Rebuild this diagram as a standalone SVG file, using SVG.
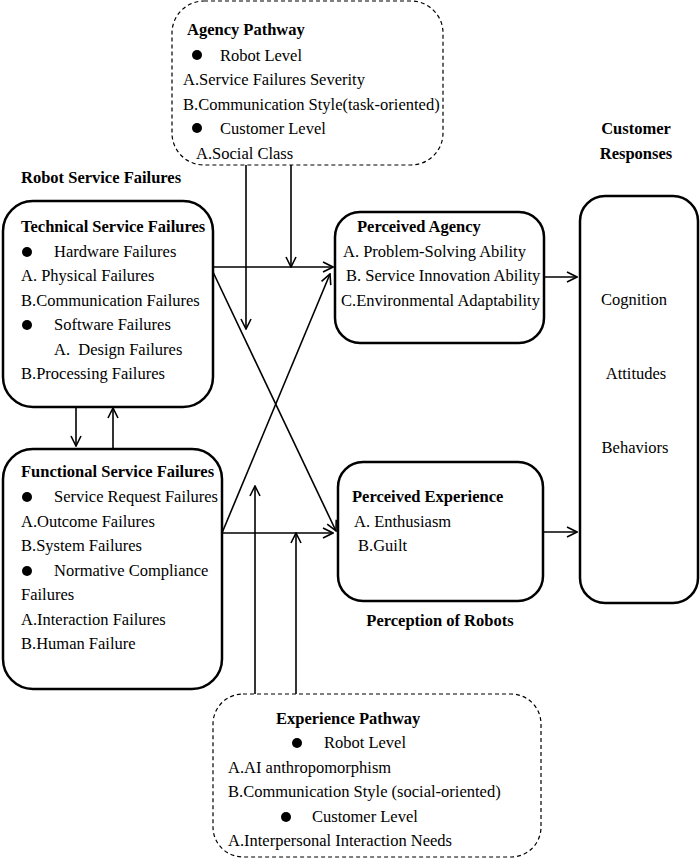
<svg xmlns="http://www.w3.org/2000/svg" width="700" height="859" viewBox="0 0 700 859">
<defs>
<style>
text{font-family:"Liberation Serif","Times New Roman",serif;font-size:16.5px;fill:#000}
.b{font-weight:bold}
.box{fill:#fff;stroke:#000;stroke-width:2.5}
.dash{fill:#fff;stroke:#000;stroke-width:1.2;stroke-dasharray:4,3}
.ln{fill:none;stroke:#000;stroke-width:1.6}
.mid{text-anchor:middle}
</style>
<marker id="ah" viewBox="0 0 12 12" refX="11" refY="6" markerWidth="12" markerHeight="12" markerUnits="userSpaceOnUse" orient="auto">
<path d="M1,1 L11,6 L1,11" fill="none" stroke="#000" stroke-width="1.6"/>
</marker>
</defs>
<rect width="700" height="859" fill="#fff"/>

<g id="agency-pathway">
<rect class="dash" x="172" y="1" width="271" height="164" rx="32"/>
<text class="b" x="187" y="35">Agency Pathway</text>
<circle cx="197" cy="55" r="5"/>
<text x="220" y="61">Robot Level</text>
<text x="183" y="85">A.Service Failures Severity</text>
<text x="183" y="110">B.Communication Style(task-oriented)</text>
<circle cx="197" cy="128" r="5"/>
<text x="220" y="134">Customer Level</text>
<text x="196" y="159">A.Social Class</text>
</g>

<g id="robot-service-failures-label">
<text class="b" x="21" y="183">Robot Service Failures</text>
</g>

<g id="technical-service-failures">
<rect class="box" x="3" y="201" width="210" height="206" rx="30"/>
<text class="b" x="21" y="232">Technical Service Failures</text>
<circle cx="27" cy="252" r="5"/>
<text x="54" y="257">Hardware Failures</text>
<text x="21" y="281">A. Physical Failures</text>
<text x="21" y="306">B.Communication Failures</text>
<circle cx="27" cy="325" r="5"/>
<text x="54" y="330">Software Failures</text>
<text x="54" y="355" xml:space="preserve">A.  Design Failures</text>
<text x="21" y="379">B.Processing Failures</text>
</g>

<g id="functional-service-failures">
<rect class="box" x="3" y="449" width="219" height="240" rx="30"/>
<text class="b" x="21" y="477">Functional Service Failures</text>
<circle cx="27" cy="497" r="5"/>
<text x="54" y="502">Service Request Failures</text>
<text x="21" y="527">A.Outcome Failures</text>
<text x="21" y="551">B.System Failures</text>
<circle cx="27" cy="571" r="5"/>
<text x="54" y="576">Normative Compliance</text>
<text x="21" y="600">Failures</text>
<text x="21" y="625">A.Interaction Failures</text>
<text x="21" y="649">B.Human Failure</text>
</g>

<g id="perceived-agency">
<rect class="box" x="335" y="212" width="209" height="131" rx="25"/>
<text class="b" x="357" y="232">Perceived Agency</text>
<text x="343" y="257">A. Problem-Solving Ability</text>
<text x="346" y="281">B. Service Innovation Ability</text>
<text x="341" y="306">C.Environmental Adaptability</text>
</g>

<g id="perceived-experience">
<rect class="box" x="338" y="462" width="205" height="139" rx="25"/>
<text class="b" x="352" y="502">Perceived Experience</text>
<text x="354" y="527">A. Enthusiasm</text>
<text x="358" y="551">B.Guilt</text>
</g>

<g id="perception-of-robots-label">
<text class="b mid" x="440" y="626">Perception of Robots</text>
</g>

<g id="customer-responses">
<text class="b mid" x="636" y="134">Customer</text>
<text class="b mid" x="636" y="159">Responses</text>
<rect class="box" x="580" y="196" width="118" height="407" rx="25"/>
<text class="mid" x="634" y="305">Cognition</text>
<text class="mid" x="636" y="379">Attitudes</text>
<text class="mid" x="635" y="453">Behaviors</text>
</g>

<g id="experience-pathway">
<rect class="dash" x="213" y="694" width="328" height="163" rx="30"/>
<text class="b" x="276" y="724">Experience Pathway</text>
<circle cx="297" cy="743" r="5"/>
<text x="324" y="748">Robot Level</text>
<text x="228" y="773">A.AI anthropomorphism</text>
<text x="228" y="797">B.Communication Style (social-oriented)</text>
<circle cx="286" cy="817" r="5"/>
<text x="312" y="822">Customer Level</text>
<text x="228" y="846">A.Interpersonal Interaction Needs</text>
</g>

<g id="connectors">
<line class="ln" x1="213" y1="267" x2="333" y2="267" marker-end="url(#ah)"/>
<line class="ln" x1="213" y1="272" x2="336" y2="531" marker-end="url(#ah)"/>
<line class="ln" x1="222" y1="533" x2="333" y2="533" marker-end="url(#ah)"/>
<line class="ln" x1="222" y1="533" x2="330" y2="274" marker-end="url(#ah)"/>
<line class="ln" x1="246" y1="165" x2="246" y2="329" marker-end="url(#ah)"/>
<line class="ln" x1="291" y1="165" x2="291" y2="267" marker-end="url(#ah)"/>
<line class="ln" x1="255" y1="694" x2="255" y2="486" marker-end="url(#ah)"/>
<line class="ln" x1="296" y1="694" x2="296" y2="533" marker-end="url(#ah)"/>
<line class="ln" x1="76" y1="407" x2="76" y2="446" marker-end="url(#ah)"/>
<line class="ln" x1="113" y1="449" x2="113" y2="408" marker-end="url(#ah)"/>
<line class="ln" x1="544" y1="277" x2="577" y2="277" marker-end="url(#ah)"/>
<line class="ln" x1="543" y1="532" x2="577" y2="532" marker-end="url(#ah)"/>
</g>
</svg>
